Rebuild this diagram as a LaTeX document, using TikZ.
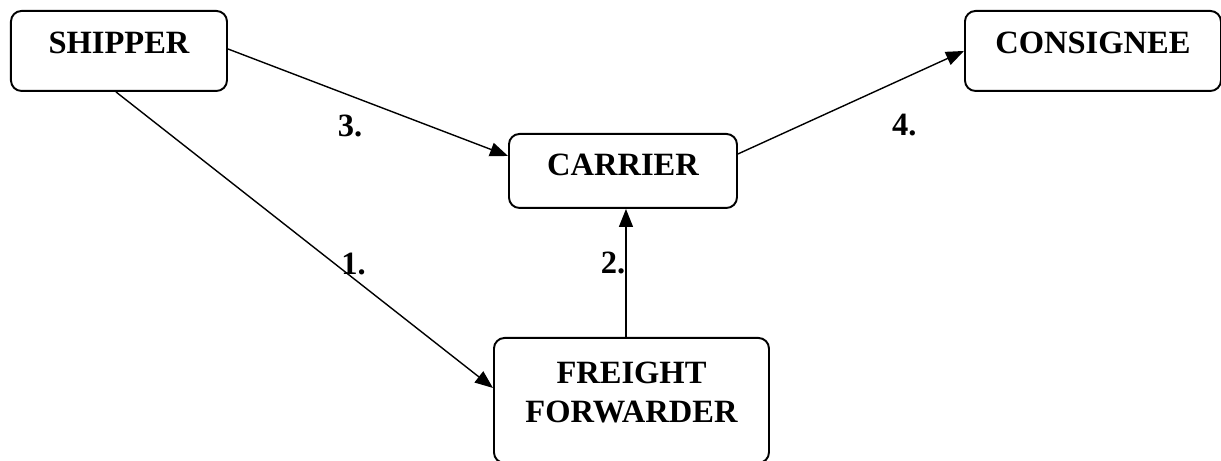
\documentclass[tikz,border=0pt]{standalone}
\usepackage{fontspec}
\setmainfont{Liberation Serif}
\usepackage{tikz}
\usetikzlibrary{positioning,arrows.meta,calc}

\begin{document}
\begin{tikzpicture}[
  font=\fontsize{18.5}{22.2}\selectfont\bfseries,
  box/.style={
    rectangle, rounded corners=6pt,
    draw=black, line width=1.1pt,
    align=center, anchor=north west,
    inner xsep=0pt, inner ysep=0pt
  },
  % one-line boxes: the text sits in the upper part
  small/.style={box, text height=0.86cm, text depth=0.74cm},
  flow/.style={
    -{Triangle[length=0.36cm,width=0.28cm]},
    draw=black, line width=0.8pt
  },
  num/.style={font=\fontsize{18.5}{22}\selectfont\bfseries}
]
\useasboundingbox (0,0) rectangle (24.42,-9.22);

% ---- boxes ----------------------------------------------------------------
\node[small, text width=4.32cm] (shipper) at (0.2,-0.2) {SHIPPER};
\node[small, text width=5.12cm] (consignee) at (19.28,-0.2) {CONSIGNEE};
\node[box, text width=4.56cm, text height=0.84cm, text depth=0.64cm]
  (carrier) at (10.16,-2.66) {CARRIER};
\node[box, text width=5.5cm, text height=0.92cm, text depth=1.58cm]
  (forwarder) at (9.86,-6.74) {FREIGHT\\ FORWARDER};

% ---- arrows ---------------------------------------------------------------
\draw[flow] ([xshift=-0.06cm]shipper.south)
  -- node[num, pos=0.63, yshift=0.28cm] {1.} ([yshift=0.25cm]forwarder.west);
\draw[flow] ([xshift=-0.11cm]forwarder.north)
  -- node[num, pos=0.577, xshift=-0.26cm] {2.} ([xshift=-0.11cm]forwarder.north |- carrier.south);
\draw[flow] ([yshift=0.04cm]shipper.east)
  -- node[num, pos=0.436, yshift=-0.6cm] {3.} ([yshift=0.3cm]carrier.west);
\draw[flow] ([yshift=0.34cm]carrier.east)
  -- node[num, pos=0.736, yshift=-0.93cm] {4.} (consignee.west);

\end{tikzpicture}
\end{document}
